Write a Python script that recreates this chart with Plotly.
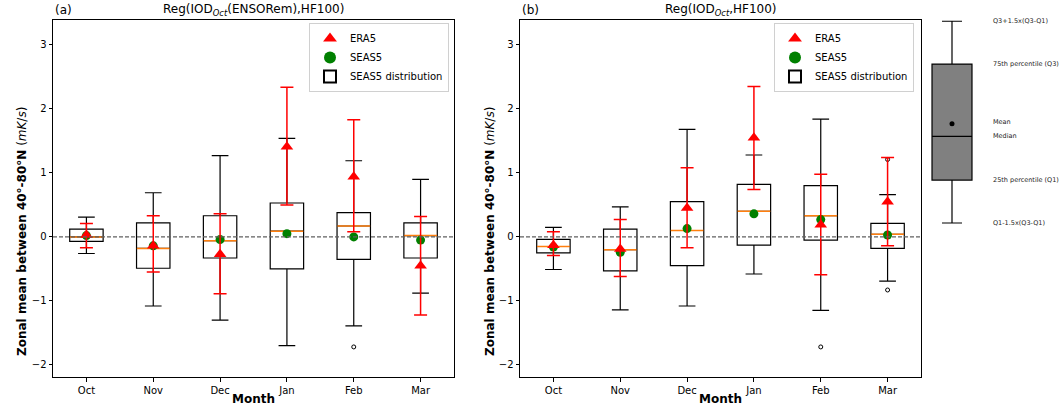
import plotly.graph_objects as go

W, H = 1063, 407

months = ["Oct", "Nov", "Dec", "Jan", "Feb", "Mar"]
y_ticks = [-2, -1, 0, 1, 2, 3]

# ---- Panel (a): Reg(IOD_Oct(ENSORem),HF100) ----
a_q1 = [-0.07, -0.49, -0.33, -0.50, -0.35, -0.33]
a_med = [0.00, -0.18, -0.06, 0.09, 0.17, 0.02]
a_q3 = [0.12, 0.22, 0.33, 0.53, 0.38, 0.22]
a_lo = [-0.26, -1.08, -1.30, -1.70, -1.39, -0.88]
a_hi = [0.31, 0.69, 1.27, 1.54, 1.19, 0.90]
a_seas5 = [0.02, -0.14, -0.04, 0.05, 0.00, -0.05]
a_era5 = [0.03, -0.14, -0.27, 1.41, 0.94, -0.45]
a_era5_hi = [0.21, 0.33, 0.36, 2.34, 1.83, 0.32]
a_era5_lo = [-0.17, -0.55, -0.89, 0.50, 0.08, -1.22]
a_out_x = ["Feb"]
a_out_y = [-1.72]

# ---- Panel (b): Reg(IOD_Oct,HF100) ----
b_q1 = [-0.25, -0.53, -0.45, -0.13, -0.05, -0.18]
b_med = [-0.15, -0.20, 0.10, 0.40, 0.33, 0.04]
b_q3 = [-0.04, 0.12, 0.55, 0.82, 0.80, 0.21]
b_lo = [-0.51, -1.14, -1.08, -0.58, -1.15, -0.69]
b_hi = [0.15, 0.47, 1.68, 1.28, 1.84, 0.66]
b_seas5 = [-0.16, -0.24, 0.13, 0.36, 0.27, 0.03]
b_era5 = [-0.13, -0.19, 0.45, 1.55, 0.19, 0.55]
b_era5_hi = [0.08, 0.27, 1.08, 2.35, 0.98, 1.24]
b_era5_lo = [-0.29, -0.62, -0.17, 0.74, -0.59, -0.14]
b_out_x = ["Feb", "Mar", "Mar"]
b_out_y = [-1.72, 1.21, -0.83]

# ---- Schematic box (legend illustration) ----
s_lo, s_q1, s_med, s_mean, s_q3, s_hi = 0.0, 0.99, 2.0, 2.29, 3.67, 4.66
s_labels = ["Q3+1.5x(Q3-Q1)", "75th percentile (Q3)", "Mean", "Median",
            "25th percentile (Q1)", "Q1-1.5x(Q3-Q1)"]
s_label_y = [s_hi, s_q3, 2.33, 2.0, s_q1, s_lo]

FONT = "DejaVu Sans"
RED = "#ff0000"
GREEN = "#008000"
ORANGE = "#ff7f0e"

fig = go.Figure()


def add_panel(xa, ya, leg, q1, med, q3, lo, hi, seas5, era5, ehi, elo, ox, oy):
    fig.add_trace(go.Box(
        x=months, q1=q1, median=med, q3=q3, lowerfence=lo, upperfence=hi,
        width=0.5, whiskerwidth=0.5, fillcolor="white",
        line=dict(color="black", width=1.2), name="SEAS5 distribution",
        xaxis=xa, yaxis=ya, legend=leg, legendrank=3, hoverinfo="skip",
        boxpoints=False))
    fig.add_trace(go.Scatter(
        x=months, y=med, mode="markers",
        marker=dict(symbol="line-ew", size=23.4,
                    line=dict(color=ORANGE, width=1.5)),
        xaxis=xa, yaxis=ya, showlegend=False, hoverinfo="skip"))
    fig.add_trace(go.Scatter(
        x=ox, y=oy, mode="markers",
        marker=dict(symbol="circle-open", size=4,
                    line=dict(color="black", width=1), color="black"),
        xaxis=xa, yaxis=ya, showlegend=False, hoverinfo="skip"))
    fig.add_trace(go.Scatter(
        x=months, y=seas5, mode="markers", name="SEAS5",
        marker=dict(symbol="circle", size=9, color=GREEN),
        xaxis=xa, yaxis=ya, legend=leg, legendrank=2, hoverinfo="skip"))
    fig.add_trace(go.Scatter(
        x=months, y=era5, mode="markers", name="ERA5",
        marker=dict(symbol="triangle-up", size=11, color=RED),
        error_y=dict(type="data", symmetric=False,
                     array=[h - v for h, v in zip(ehi, era5)],
                     arrayminus=[v - l for v, l in zip(era5, elo)],
                     color=RED, thickness=1.5, width=6.5),
        xaxis=xa, yaxis=ya, legend=leg, legendrank=1, hoverinfo="skip"))


add_panel("x", "y", "legend", a_q1, a_med, a_q3, a_lo, a_hi, a_seas5,
          a_era5, a_era5_hi, a_era5_lo, a_out_x, a_out_y)
add_panel("x2", "y2", "legend2", b_q1, b_med, b_q3, b_lo, b_hi, b_seas5,
          b_era5, b_era5_hi, b_era5_lo, b_out_x, b_out_y)

# schematic
fig.add_trace(go.Box(
    x=[0], q1=[s_q1], median=[s_med], q3=[s_q3], lowerfence=[s_lo],
    upperfence=[s_hi], width=0.833, whiskerwidth=0.5, fillcolor="#808080",
    line=dict(color="black", width=1.2), xaxis="x3", yaxis="y3",
    showlegend=False, hoverinfo="skip", boxpoints=False))
fig.add_trace(go.Scatter(
    x=[0], y=[s_mean], mode="markers",
    marker=dict(symbol="circle", size=5, color="black"),
    xaxis="x3", yaxis="y3", showlegend=False, hoverinfo="skip"))


def px_x(p):
    return p / W


def px_y(p):
    return 1 - p / H


axis_common = dict(showline=True, linecolor="black", linewidth=1, mirror=True,
                   ticks="outside", ticklen=3.5, tickwidth=1, tickcolor="black",
                   showgrid=False, zeroline=False,
                   tickfont=dict(family=FONT, size=10, color="black"))

xa_common = dict(axis_common, type="category", categoryorder="array",
                 categoryarray=months, range=[-0.5, 5.5])
ya_common = dict(axis_common, range=[-2.19, 3.39], tickvals=y_ticks)

ydom = [px_y(377), px_y(20)]

legend_common = dict(font=dict(family=FONT, size=10, color="black"),
                     bgcolor="rgba(255,255,255,0.8)", bordercolor="#d0d0d0",
                     borderwidth=1, xanchor="right", yanchor="top",
                     traceorder="normal", itemsizing="constant")

fig.update_layout(
    width=W, height=H, margin=dict(l=0, r=0, t=0, b=0),
    plot_bgcolor="white", paper_bgcolor="white",
    font=dict(family=FONT, color="black"),
    xaxis=dict(xa_common, domain=[px_x(53), px_x(454)], anchor="y"),
    yaxis=dict(ya_common, domain=ydom, anchor="x"),
    xaxis2=dict(xa_common, domain=[px_x(520), px_x(921)], anchor="y2"),
    yaxis2=dict(ya_common, domain=ydom, anchor="x2"),
    xaxis3=dict(domain=[px_x(928), px_x(976)], anchor="y3", visible=False,
                range=[-0.5, 0.5]),
    yaxis3=dict(domain=[px_y(230), px_y(15)], anchor="x3", visible=False,
                range=[-0.162, 4.804]),
    legend=dict(legend_common, x=px_x(449), y=px_y(23)),
    legend2=dict(legend_common, x=px_x(914), y=px_y(23)),
    showlegend=True,
)

# zero lines
for xr, yr in (("x domain", "y"), ("x2 domain", "y2")):
    fig.add_shape(type="line", xref=xr, yref=yr, x0=0, x1=1, y0=0, y1=0,
                  line=dict(color="#606060", width=1.4, dash="4px,2px"),
                  layer="above")

ann = []
for left, right, tag, title in (
        (53, 454, "(a)", "Reg(IOD<sub><i>Oct</i></sub>(ENSORem),HF100)"),
        (520, 921, "(b)", "Reg(IOD<sub><i>Oct</i></sub>,HF100)")):
    ann.append(dict(text=tag, x=px_x(left), y=px_y(10), xref="paper",
                    yref="paper", xanchor="left", yanchor="middle",
                    showarrow=False, font=dict(family=FONT, size=12)))
    ann.append(dict(text=title, x=px_x((left + right) / 2), y=px_y(10),
                    xref="paper", yref="paper", xanchor="center",
                    yanchor="middle", showarrow=False,
                    font=dict(family=FONT, size=12)))
    ann.append(dict(text="<b>Month</b>", x=px_x((left + right) / 2),
                    y=px_y(399), xref="paper", yref="paper", xanchor="center",
                    yanchor="middle", showarrow=False,
                    font=dict(family=FONT, size=12)))

for xc in (22, 490):
    ann.append(dict(text="<b>Zonal mean between 40°-80°N</b> (<i>mK</i>/<i>s</i>)",
                    x=px_x(xc), y=px_y(232), xref="paper", yref="paper",
                    xanchor="center", yanchor="middle", textangle=-90,
                    showarrow=False, font=dict(family=FONT, size=12)))

for lab, yv in zip(s_labels, s_label_y):
    ann.append(dict(text=lab, x=px_x(991), y=yv, xref="paper", yref="y3",
                    xanchor="left", yanchor="middle", showarrow=False,
                    font=dict(family=FONT, size=6.5, color="#222")))

fig.update_layout(annotations=ann)

fig.write_html(
    "out.html",
    config={"displayModeBar": False},
    post_script="document.body.style.margin='0';"
                "document.body.style.padding='0';"
                "document.body.style.overflow='hidden';")
